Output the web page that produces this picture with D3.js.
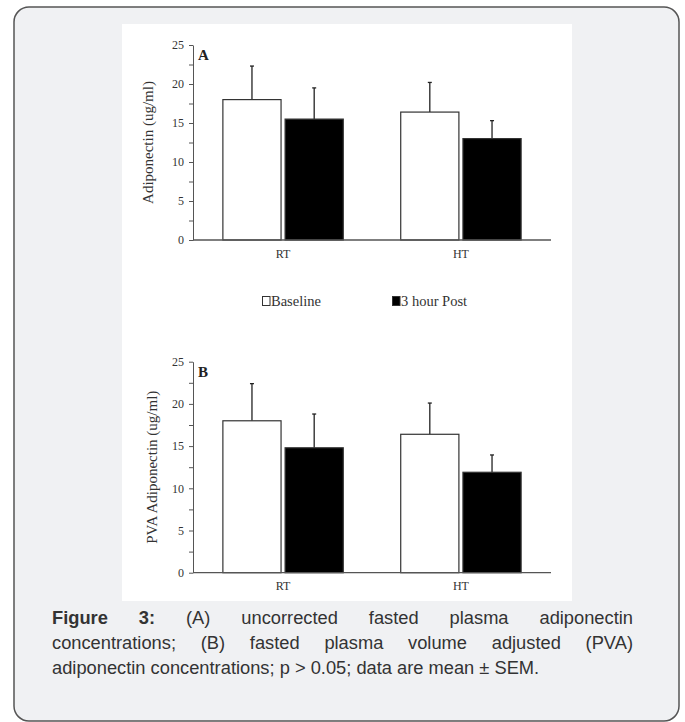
<!DOCTYPE html>
<html>
<head>
<meta charset="utf-8">
<script src="https://cdn.jsdelivr.net/npm/d3@7"></script>
<style>
  body{margin:0;background:#fff;}
  #wrap{position:relative;width:685px;height:722px;}
  svg{position:absolute;left:0;top:0;}
  #caption{position:absolute;left:52px;top:605px;width:581px;
    font-family:"Liberation Sans",Arial,sans-serif;font-size:18.3px;line-height:25px;color:#333;}
  #caption div{text-align:justify;text-align-last:justify;white-space:nowrap;}
  #caption div.last{text-align:left;text-align-last:left;}
</style>
</head>
<body>
<div id="wrap">
<svg width="685" height="722"></svg>
<div id="caption"></div>
</div>
<script>
var categories = ["RT","HT"];
var series = ["Baseline","3 hour Post"];
var seriesFill = ["#fff","#000"];

// panel A: uncorrected
var meanA = [[18.0,15.5],[16.4,13.0]];
var semA  = [[4.3,4.0],[3.8,2.3]];
// panel B: PVA adjusted
var meanB = [[18.0,14.8],[16.4,11.9]];
var semB  = [[4.4,4.0],[3.7,2.05]];

var yTicks = [0,2.5,5,7.5,10,12.5,15,17.5,20,22.5,25];

var captionLines = [
  "(A) uncorrected fasted plasma adiponectin",
  "concentrations; (B) fasted plasma volume adjusted (PVA)",
  "adiponectin concentrations; p > 0.05; data are mean ± SEM."
];

var svg = d3.select("svg");

// card
svg.append("rect").attr("x",14).attr("y",7).attr("width",665).attr("height",714)
   .attr("rx",15).attr("fill","#f0f1f3").attr("stroke","#555").attr("stroke-width",1.5);
// picture area
svg.append("rect").attr("x",122).attr("y",24).attr("width",450).attr("height",577).attr("fill","#fff");

function panel(letter, title, means, sems, yTop, yBottom, titleX){
  var g = svg.append("g");
  var x0 = d3.scaleBand().domain(categories).range([193,551]).paddingInner(0.323).paddingOuter(0.168);
  var x1 = d3.scaleBand().domain(series).range([0,x0.bandwidth()]).paddingInner(0.065);
  var y = d3.scaleLinear().domain([0,25]).range([yBottom,yTop]);

  var yAxis = d3.axisLeft(y).tickValues(yTicks).tickSize(4).tickSizeOuter(0).tickPadding(5)
      .tickFormat(function(d){return d%5===0 ? d : "";});
  var ya = g.append("g").attr("transform","translate(193,0)").call(yAxis);
  ya.selectAll("text").attr("font-family","Liberation Serif").attr("font-size",12).attr("fill","#333");
  ya.selectAll("line,path").attr("stroke","#555");

  categories.forEach(function(c,i){
    series.forEach(function(s,j){
      var bx = x0(c)+x1(s), bw = x1.bandwidth();
      var cx = bx+bw/2;
      var top = y(means[i][j]+sems[i][j]);
      g.append("line").attr("x1",cx).attr("x2",cx).attr("y1",y(means[i][j])).attr("y2",top)
       .attr("stroke","#222").attr("stroke-width",1.3);
      g.append("line").attr("x1",cx-2).attr("x2",cx+2).attr("y1",top).attr("y2",top)
       .attr("stroke","#222").attr("stroke-width",1.3);
      g.append("rect").attr("x",bx).attr("y",y(means[i][j])).attr("width",bw)
       .attr("height",y(0)-y(means[i][j])).attr("fill",seriesFill[j])
       .attr("stroke","#333").attr("stroke-width",1.2);
    });
  });

  var xAxis = d3.axisBottom(x0).tickSize(0).tickSizeOuter(0).tickPadding(9);
  var xa = g.append("g").attr("transform","translate(0,"+y(0)+")").call(xAxis);
  xa.select("path").attr("d","M193,0H551").attr("stroke","#555").attr("stroke-width",1.3);
  xa.selectAll("text").attr("font-family","Liberation Serif").attr("font-size",12).attr("fill","#333");

  g.append("text").attr("x",198).attr("y",yTop+15).text(letter)
   .attr("font-family","Liberation Serif").attr("font-weight","bold").attr("font-size",15).attr("fill","#222");
  g.append("text").attr("transform","translate("+titleX+","+((yTop+yBottom)/2)+") rotate(-90)")
   .attr("text-anchor","middle").attr("font-family","Liberation Serif").attr("font-size",15)
   .attr("fill","#333").text(title);
}

panel("A","Adiponectin (ug/ml)",meanA,semA,45,240,153);
panel("B","PVA Adiponectin (ug/ml)",meanB,semB,361.7,572.7,157);

// legend
var leg = svg.append("g").attr("font-family","Liberation Serif").attr("font-size",14.5).attr("fill","#333");
var legX = [262,392];
series.forEach(function(s,j){
  leg.append("rect").attr("x",legX[j]+0.5).attr("y",296.5).attr("width",7.5).attr("height",9)
     .attr("fill",seriesFill[j]).attr("stroke","#333").attr("stroke-width",1);
  leg.append("text").attr("x",legX[j]+9).attr("y",305.5).text(s);
});

// caption, line breaks as in the figure
var cap = d3.select("#caption");
captionLines.forEach(function(t,i){
  var line = cap.append("div").classed("last", i===captionLines.length-1);
  if(i===0){
    line.append("b").text("Figure 3:");
    line.append("span").text(" "+t);
  } else {
    line.text(t);
  }
});
</script>
</body>
</html>
